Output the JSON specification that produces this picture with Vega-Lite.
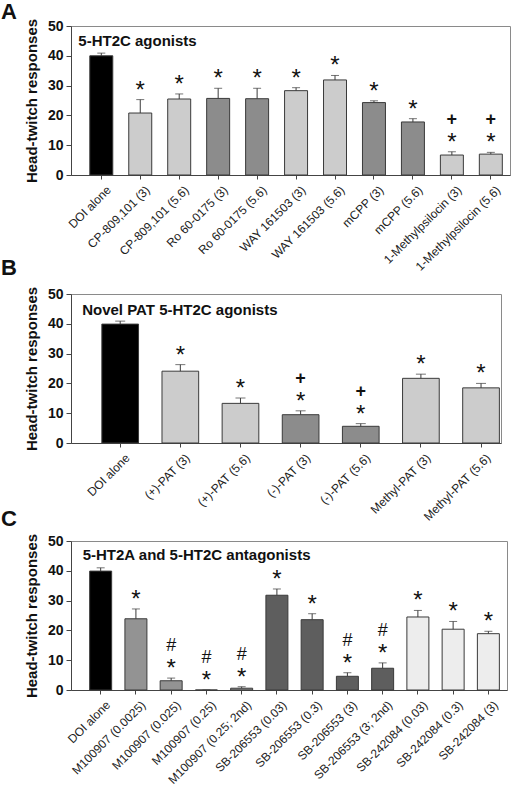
{
  "$schema": "https://vega.github.io/schema/vega-lite/v6.json",
  "padding": {"left": 0, "top": 0, "right": 2, "bottom": 0},
  "spacing": -17,
  "config": {
    "font": "Liberation Sans",
    "view": {"stroke": "#8a8a8a", "strokeWidth": 1},
    "axis": {"grid": false, "domainColor": "#444444", "tickColor": "#444444"},
    "axisY": {"labelFontWeight": "bold", "labelFontSize": 14, "labelColor": "#111111", "titleFontSize": 15, "titleFontWeight": "bold", "titleColor": "#111111", "tickSize": 5, "labelPadding": 3, "titlePadding": 8},
    "axisX": {"labelAngle": -45, "labelFontSize": 12, "labelColor": "#222222", "tickSize": 4, "labelPadding": 5, "labelOffset": 4, "title": null},
    "title": {"anchor": "start", "frame": "group", "color": "#111111", "fontSize": 22, "fontWeight": "bold", "dx": -70}
  },
  "datasets": {
    "A": [
      {"label": "DOI alone", "mean": 40.0, "upper": 40.9, "shade": "black", "sig": "", "sig2": ""},
      {"label": "CP-809,101 (3)", "mean": 20.8, "upper": 25.3, "shade": "light", "sig": "*", "sig2": ""},
      {"label": "CP-809,101 (5.6)", "mean": 25.5, "upper": 27.2, "shade": "light", "sig": "*", "sig2": ""},
      {"label": "Ro 60-0175 (3)", "mean": 25.7, "upper": 29.1, "shade": "dark", "sig": "*", "sig2": ""},
      {"label": "Ro 60-0175 (5.6)", "mean": 25.6, "upper": 29.1, "shade": "dark", "sig": "*", "sig2": ""},
      {"label": "WAY 161503 (3)", "mean": 28.3, "upper": 29.3, "shade": "light", "sig": "*", "sig2": ""},
      {"label": "WAY 161503 (5.6)", "mean": 31.9, "upper": 33.4, "shade": "light", "sig": "*", "sig2": ""},
      {"label": "mCPP (3)", "mean": 24.3, "upper": 24.9, "shade": "dark", "sig": "*", "sig2": ""},
      {"label": "mCPP (5.6)", "mean": 17.8, "upper": 18.9, "shade": "dark", "sig": "*", "sig2": ""},
      {"label": "1-Methylpsilocin (3)", "mean": 6.7, "upper": 7.8, "shade": "light", "sig": "*", "sig2": "+"},
      {"label": "1-Methylpsilocin (5.6)", "mean": 7.0, "upper": 7.6, "shade": "light", "sig": "*", "sig2": "+"}
    ],
    "B": [
      {"label": "DOI alone", "mean": 39.9, "upper": 40.9, "shade": "black", "sig": "", "sig2": ""},
      {"label": "(+)-PAT (3)", "mean": 24.1, "upper": 26.3, "shade": "light", "sig": "*", "sig2": ""},
      {"label": "(+)-PAT (5.6)", "mean": 13.3, "upper": 15.1, "shade": "light", "sig": "*", "sig2": ""},
      {"label": "(-)-PAT (3)", "mean": 9.5, "upper": 10.8, "shade": "dark", "sig": "*", "sig2": "+"},
      {"label": "(-)-PAT (5.6)", "mean": 5.6, "upper": 6.5, "shade": "dark", "sig": "*", "sig2": "+"},
      {"label": "Methyl-PAT (3)", "mean": 21.7, "upper": 23.1, "shade": "light", "sig": "*", "sig2": ""},
      {"label": "Methyl-PAT (5.6)", "mean": 18.5, "upper": 20.0, "shade": "light", "sig": "*", "sig2": ""}
    ],
    "C": [
      {"label": "DOI alone", "mean": 39.9, "upper": 41.0, "shade": "black", "sig": "", "sig2": ""},
      {"label": "M100907 (0.0025)", "mean": 23.9, "upper": 27.2, "shade": "mid", "sig": "*", "sig2": ""},
      {"label": "M100907 (0.025)", "mean": 3.1, "upper": 4.0, "shade": "mid", "sig": "*", "sig2": "#"},
      {"label": "M100907 (0.25)", "mean": 0, "upper": 0, "shade": "mid", "sig": "*", "sig2": "#"},
      {"label": "M100907 (0.25; 2nd)", "mean": 0.6, "upper": 1.1, "shade": "mid", "sig": "*", "sig2": "#"},
      {"label": "SB-206553 (0.03)", "mean": 31.8, "upper": 33.9, "shade": "darker", "sig": "*", "sig2": ""},
      {"label": "SB-206553 (0.3)", "mean": 23.6, "upper": 25.6, "shade": "darker", "sig": "*", "sig2": ""},
      {"label": "SB-206553 (3)", "mean": 4.6, "upper": 5.8, "shade": "darker", "sig": "*", "sig2": "#"},
      {"label": "SB-206553 (3; 2nd)", "mean": 7.3, "upper": 9.1, "shade": "darker", "sig": "*", "sig2": "#"},
      {"label": "SB-242084 (0.03)", "mean": 24.5, "upper": 26.7, "shade": "pale", "sig": "*", "sig2": ""},
      {"label": "SB-242084 (0.3)", "mean": 20.4, "upper": 23.0, "shade": "pale", "sig": "*", "sig2": ""},
      {"label": "SB-242084 (3)", "mean": 18.9, "upper": 19.7, "shade": "pale", "sig": "*", "sig2": ""}
    ]
  },
  "vconcat": [
    {
      "title": {"text": "A", "offset": -12},
      "width": 439, "height": 149,
      "data": {"name": "A"},
      "encoding": {
        "x": {"field": "label", "type": "nominal", "sort": null, "scale": {"paddingInner": 0.41, "paddingOuter": 0.34, "align": 0.71}},
        "y": {"field": "mean", "type": "quantitative", "scale": {"domain": [0, 50], "nice": false}, "axis": {"title": "Head-twitch responses", "values": [0, 10, 20, 30, 40, 50]}}
      },
      "layer": [
        {"mark": {"type": "bar", "stroke": "#3a3a3a", "strokeWidth": 1}, "encoding": {"color": {"field": "shade", "type": "nominal", "legend": null, "scale": {"domain": ["black", "light", "dark", "mid", "darker", "pale"], "range": ["#000000", "#cccccc", "#8c8c8c", "#939393", "#5e5e5e", "#ededed"]}}}},
        {"mark": {"type": "rule", "color": "#3a3a3a"}, "encoding": {"y2": {"field": "upper"}}},
        {"mark": {"type": "tick", "color": "#3a3a3a", "size": 8, "thickness": 1}, "encoding": {"y": {"field": "upper", "type": "quantitative"}}},
        {"mark": {"type": "text", "fontSize": 24, "dy": -2, "color": "#111111", "baseline": "alphabetic"}, "encoding": {"y": {"field": "upper", "type": "quantitative"}, "text": {"field": "sig"}}},
        {"mark": {"type": "text", "fontSize": 18, "fontWeight": "bold", "dy": -27, "color": "#111111", "baseline": "alphabetic"}, "encoding": {"y": {"field": "upper", "type": "quantitative"}, "text": {"field": "sig2"}}},
        {"transform": [{"filter": "datum.label === 'DOI alone'"}], "mark": {"type": "text", "fontSize": 15, "fontWeight": "bold", "align": "left", "baseline": "alphabetic", "dx": -23, "dy": 20, "color": "#111111"}, "encoding": {"y": {"datum": 50, "type": "quantitative"}, "text": {"value": "5-HT2C agonists"}}}
      ]
    },
    {
      "title": {"text": "B", "offset": 0},
      "width": 430, "height": 149,
      "data": {"name": "B"},
      "encoding": {
        "x": {"field": "label", "type": "nominal", "sort": null, "scale": {"paddingInner": 0.39, "paddingOuter": 0.27, "align": 0.95}},
        "y": {"field": "mean", "type": "quantitative", "scale": {"domain": [0, 50], "nice": false}, "axis": {"title": "Head-twitch responses", "values": [0, 10, 20, 30, 40, 50]}}
      },
      "layer": [
        {"mark": {"type": "bar", "stroke": "#3a3a3a", "strokeWidth": 1}, "encoding": {"color": {"field": "shade", "type": "nominal", "legend": null, "scale": {"domain": ["black", "light", "dark", "mid", "darker", "pale"], "range": ["#000000", "#cccccc", "#8c8c8c", "#939393", "#5e5e5e", "#ededed"]}}}},
        {"mark": {"type": "rule", "color": "#3a3a3a"}, "encoding": {"y2": {"field": "upper"}}},
        {"mark": {"type": "tick", "color": "#3a3a3a", "size": 10, "thickness": 1}, "encoding": {"y": {"field": "upper", "type": "quantitative"}}},
        {"mark": {"type": "text", "fontSize": 24, "dy": -2, "color": "#111111", "baseline": "alphabetic"}, "encoding": {"y": {"field": "upper", "type": "quantitative"}, "text": {"field": "sig"}}},
        {"mark": {"type": "text", "fontSize": 18, "fontWeight": "bold", "dy": -27, "color": "#111111", "baseline": "alphabetic"}, "encoding": {"y": {"field": "upper", "type": "quantitative"}, "text": {"field": "sig2"}}},
        {"transform": [{"filter": "datum.label === 'DOI alone'"}], "mark": {"type": "text", "fontSize": 15, "fontWeight": "bold", "align": "left", "baseline": "alphabetic", "dx": -38, "dy": 21, "color": "#111111"}, "encoding": {"y": {"datum": 50, "type": "quantitative"}, "text": {"value": "Novel PAT 5-HT2C agonists"}}}
      ]
    },
    {
      "title": {"text": "C", "offset": -4},
      "width": 436, "height": 149,
      "data": {"name": "C"},
      "encoding": {
        "x": {"field": "label", "type": "nominal", "sort": null, "scale": {"paddingInner": 0.376, "paddingOuter": 0.373, "align": 0.71}},
        "y": {"field": "mean", "type": "quantitative", "scale": {"domain": [0, 50], "nice": false}, "axis": {"title": "Head-twitch responses", "values": [0, 10, 20, 30, 40, 50]}}
      },
      "layer": [
        {"mark": {"type": "bar", "stroke": "#3a3a3a", "strokeWidth": 1}, "encoding": {"color": {"field": "shade", "type": "nominal", "legend": null, "scale": {"domain": ["black", "light", "dark", "mid", "darker", "pale"], "range": ["#000000", "#cccccc", "#8c8c8c", "#939393", "#5e5e5e", "#ededed"]}}}},
        {"mark": {"type": "rule", "color": "#3a3a3a"}, "encoding": {"y2": {"field": "upper"}}},
        {"mark": {"type": "tick", "color": "#3a3a3a", "size": 8, "thickness": 1}, "encoding": {"y": {"field": "upper", "type": "quantitative"}}},
        {"mark": {"type": "text", "fontSize": 24, "dy": -2, "color": "#111111", "baseline": "alphabetic"}, "encoding": {"y": {"field": "upper", "type": "quantitative"}, "text": {"field": "sig"}}},
        {"mark": {"type": "text", "fontSize": 18, "dy": -27, "color": "#111111", "baseline": "alphabetic"}, "encoding": {"y": {"field": "upper", "type": "quantitative"}, "text": {"field": "sig2"}}},
        {"transform": [{"filter": "datum.label === 'DOI alone'"}], "mark": {"type": "text", "fontSize": 15, "fontWeight": "bold", "align": "left", "baseline": "alphabetic", "dx": -18, "dy": 19, "color": "#111111"}, "encoding": {"y": {"datum": 50, "type": "quantitative"}, "text": {"value": "5-HT2A and 5-HT2C antagonists"}}}
      ]
    }
  ]
}
